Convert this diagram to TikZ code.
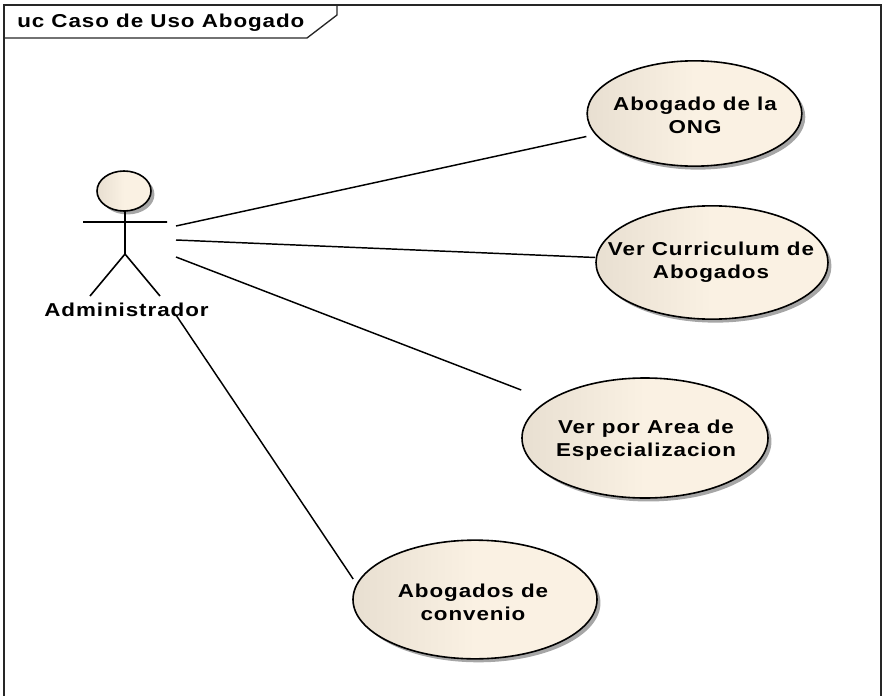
\documentclass[tikz,border=0pt]{standalone}
\usepackage{fontspec}
\setmainfont{Liberation Sans}[FakeStretch=1.2,LetterSpace=5]
\usetikzlibrary{shapes.geometric, shadows}
\definecolor{ucdark}{HTML}{E8DFD1}
\definecolor{uclight}{HTML}{FAF1E3}
\pgfdeclarehorizontalshading{ucfill}{100bp}{
    color(0bp)=(ucdark); color(25bp)=(ucdark); color(50bp)=(uclight); color(100bp)=(uclight)}
\tikzset{%
    frm/.style={line width = 1pt, draw=black!85},
    lin/.style={line width = 1.1pt},
    act/.style={line width = 1.2pt},
    uc/.style={ellipse, draw, line width = 1.2pt, shading=ucfill, inner sep=0pt,
        drop shadow={shadow xshift=2.6pt, shadow yshift=-2.6pt, fill=black, opacity=0.35}},
    txt/.style={align=center, inner sep=0pt, font=\fontsize{14}{17.2}\selectfont\bfseries},
}
\begin{document}
\begin{tikzpicture}[x=0.75pt, y=-0.75pt]
    \useasboundingbox (0,0) rectangle (882,696);
    % frame and its tag
    \draw [frm] (4,696) -- (4,5) -- (881,5) -- (881,696);
    \draw [frm] (4,38) -- (307,38) -- (337,15) -- (337,5);
    \node [txt, anchor=west] (title) at (17,23) {uc Caso de Uso Abogado};
    % actor
    \node [uc, minimum width=40.5pt, minimum height=30pt] (head) at (124,191) {};
    \coordinate (neck) at (125,211);
    \coordinate (hip) at (125,254);
    \coordinate (armL) at (83,222);
    \coordinate (armR) at (167,222);
    \coordinate (footL) at (90,296);
    \coordinate (footR) at (160,296);
    \draw [act] (neck) -- (hip) (armL) -- (armR) (footL) -- (hip) -- (footR);
    \node [txt] (admin) at (126.5,310) {Administrador};
    % use cases
    \node [uc, minimum width=161pt, minimum height=79pt] (ong) at (694.5,113.5) {};
    \node [uc, minimum width=174pt, minimum height=85pt] (cv) at (712,262.5) {};
    \node [uc, minimum width=184.5pt, minimum height=90pt] (area) at (645,438) {};
    \node [uc, minimum width=183pt, minimum height=89pt] (conv) at (475,599.5) {};
    \node [txt] (ongt) at (695,115) {Abogado de la\\ONG};
    \node [txt] (cvt) at (711,262) {Ver Curriculum de\\Abogados};
    \node [txt] (areat) at (646,440) {Ver por Area de\\Especializacion};
    \node [txt] (convt) at (473,602) {Abogados de\\convenio};
    % associations
    \coordinate (a1) at (176,226);
    \coordinate (a2) at (176,240);
    \coordinate (a3) at (176,257);
    \coordinate (a4) at (176,315);
    \coordinate (b1) at ([shift={(0,23)}]ong.west);
    \coordinate (b2) at ([shift={(0,-5)}]cv.west);
    \coordinate (b3) at ([shift={(0,-48)}]area.west);
    \coordinate (b4) at ([shift={(1,-20.5)}]conv.west);
    \draw [lin] (a1) -- (b1);
    \draw [lin] (a2) -- (b2);
    \draw [lin] (a3) -- (b3);
    \draw [lin] (a4) -- (b4);
\end{tikzpicture}
\end{document}
